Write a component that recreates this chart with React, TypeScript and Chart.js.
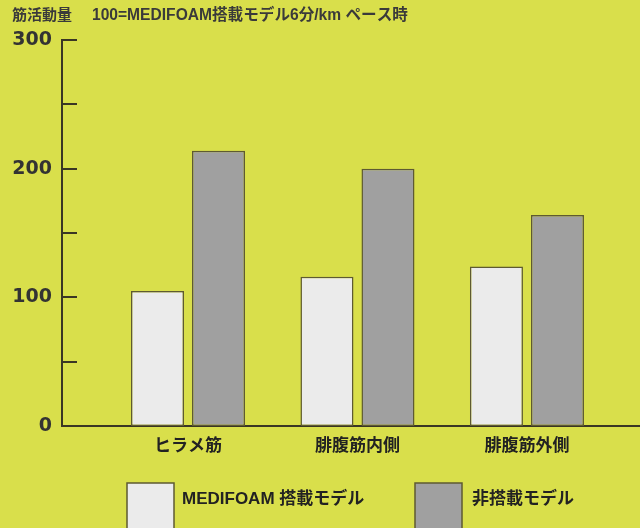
import { useEffect, useRef } from "react";
import { Chart, registerables } from "chart.js";

Chart.register(...registerables);

const titleLead = "筋活動量";
const titleNote = "100=MEDIFOAM搭載モデル6分/km ペース時";
const categories = ["ヒラメ筋", "腓腹筋内側", "腓腹筋外側"];
const categoryPositions = [1, 2, 3];
const seriesNames = ["MEDIFOAM 搭載モデル", "非搭載モデル"];
const medifoamValues = [105, 116, 124];
const nonEquippedValues = [214, 200, 164];
const yLabelValues = [0, 100, 200, 300];

const BG = "#d9df4b";
const INK = "#3a3624";
const BAR_EDGE = "#5e5a32";
const FONT = "'Liberation Sans', 'Noto Sans CJK JP', sans-serif";
const CJK = "'Noto Sans CJK JP', 'Liberation Sans', sans-serif";
const NUM = "'DejaVu Sans', 'Liberation Sans', sans-serif";

const decor = {
  id: "decor",
  afterDraw(chart: any) {
    const ctx = chart.ctx;
    const ys = chart.scales.y;
    const left = chart.chartArea.left;
    ctx.save();
    ctx.strokeStyle = INK;
    ctx.lineWidth = 2;
    ys.ticks.forEach((t: any) => {
      if (t.value === 0) return;
      const py = Math.round(ys.getPixelForValue(t.value));
      ctx.beginPath();
      ctx.moveTo(left - 1, py);
      ctx.lineTo(left + 15, py);
      ctx.stroke();
    });
    // title
    ctx.fillStyle = "#3a3a3a";
    ctx.textBaseline = "middle";
    ctx.textAlign = "left";
    ctx.font = `bold 15px ${FONT}`;
    ctx.fillText(titleLead, 12, 16);
    ctx.font = `bold 15.6px ${FONT}`;
    ctx.fillText(titleNote, 92, 16);
    // legend
    const boxX = [127, 415];
    const textX = [182, 472];
    chart.data.datasets.forEach((ds: any, i: number) => {
      ctx.fillStyle = ds.backgroundColor;
      ctx.strokeStyle = BAR_EDGE;
      ctx.lineWidth = 1.5;
      ctx.fillRect(boxX[i], 483, 47, 60);
      ctx.strokeRect(boxX[i], 483, 47, 60);
      ctx.fillStyle = "#222";
      ctx.font = `bold 17px ${FONT}`;
      ctx.fillText(ds.label, textX[i], 499);
    });
    ctx.restore();
  },
};

export default function App() {
  const ref = useRef<HTMLCanvasElement>(null);
  useEffect(() => {
    if (!ref.current) return;
    const chart = new Chart(ref.current, {
      type: "bar",
      data: {
        datasets: [
          {
            label: seriesNames[0],
            data: categoryPositions.map((x, i) => ({ x, y: medifoamValues[i] })),
            backgroundColor: "#ebebeb",
            borderColor: BAR_EDGE,
            borderWidth: 1.5,
            borderSkipped: false,
          },
          {
            label: seriesNames[1],
            data: categoryPositions.map((x, i) => ({ x, y: nonEquippedValues[i] })),
            backgroundColor: "#a0a0a0",
            borderColor: BAR_EDGE,
            borderWidth: 1.5,
            borderSkipped: false,
          },
        ],
      },
      options: {
        responsive: false,
        animation: false,
        events: [],
        layout: { padding: { top: 40, right: 0, bottom: 0, left: 0 } },
        datasets: {
          bar: { categoryPercentage: 0.72, barPercentage: 0.869 },
        },
        plugins: {
          legend: { display: false },
          title: { display: false },
          tooltip: { enabled: false },
        },
        scales: {
          x: {
            type: "linear",
            offset: false,
            min: 0.2566,
            max: 3.667,
            grid: { display: false, drawTicks: false, offset: false },
            border: { display: true, color: INK, width: 2 },
            afterBuildTicks: (scale: any) => {
              scale.ticks = categoryPositions.map((v) => ({ value: v }));
            },
            afterFit: (scale: any) => {
              scale.height = 102;
            },
            ticks: {
              padding: 8,
              color: "#222",
              font: { family: CJK, size: 17, weight: "bold" },
              maxRotation: 0,
              autoSkip: false,
              callback: (v: any) => {
                const idx = categoryPositions.indexOf(Number(v));
                return idx >= 0 ? categories[idx] : "";
              },
            },
          },
          y: {
            min: 0,
            max: 300,
            grid: { display: false, drawTicks: false },
            border: { display: true, color: INK, width: 2 },
            afterFit: (scale: any) => {
              scale.width = 62;
            },
            ticks: {
              stepSize: 50,
              padding: 10,
              color: "#333",
              font: { family: NUM, size: 19, weight: "bold" },
              callback: (v: any) => (yLabelValues.includes(Number(v)) ? String(v) : ""),
            },
          },
        },
      },
      plugins: [decor],
    });
    return () => chart.destroy();
  }, []);
  return (
    <div
      style={{
        position: "fixed",
        left: 0,
        top: 0,
        width: 640,
        height: 528,
        background: BG,
        overflow: "hidden",
      }}
    >
      <canvas ref={ref} width={640} height={528} style={{ display: "block" }} />
    </div>
  );
}
